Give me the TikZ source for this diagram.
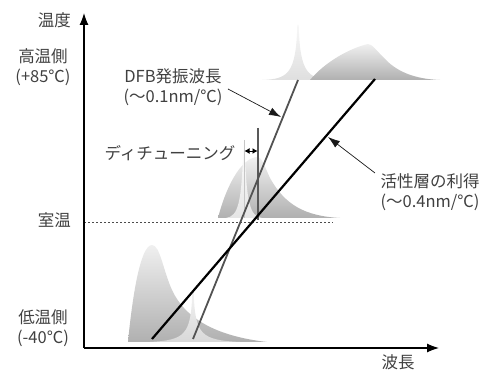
\documentclass[tikz,border=0pt]{standalone}
\usepackage{fontspec}
\setmainfont{Noto Sans CJK JP}
\usetikzlibrary{arrows.meta}
\begin{document}
\begin{tikzpicture}[x=1pt,y=-1pt,
  font=\fontsize{16.5}{20.5}\selectfont,
  lbl/.style={text=black!75, inner sep=0pt, align=center},
  axis/.style={line width=1.1pt, -{Latex[length=12pt,width=9pt]}},
  gain/.style={top color=gray!12, bottom color=gray!62, draw=none},
  dfbspec/.style={top color=gray!6, bottom color=gray!25, draw=none},
  note/.style={line width=0.7pt, black!90, -{Latex[length=12pt,width=8pt]}},
  gainline/.style={line width=2.2pt, black},
  dfbline/.style={line width=1.8pt, black!68}]
\useasboundingbox (0,0) rectangle (483,371);

% spectra: top
\shade[dfbspec] (262,80) .. controls (288,79) and (296,74) .. (297.3,25) -- (298.7,25) .. controls (300,74) and (308,79) .. (334,80) -- cycle;
\shade[gain] (310,80) .. controls (325,62) and (350,48) .. (368,44) .. controls (372,44) and (376,50) .. (386,60) .. controls (398,72) and (415,79) .. (440,80) -- cycle;
% middle
\shade[gain] (218,218) .. controls (225,190) and (240,158) .. (257,157) .. controls (262,157) and (264,165) .. (270,178) .. controls (285,205) and (305,216) .. (340,218) -- cycle;
\shade[top color=white, bottom color=gray!20, draw=none] (226,218) .. controls (238,216) and (242,205) .. (243.4,140) -- (244.6,140) .. controls (246,205) and (250,216) .. (262,218) -- cycle;
% bottom
\shade[gain] (128,342) .. controls (132,300) and (140,245) .. (152,245) .. controls (160,245) and (163,270) .. (172,290) .. controls (185,318) and (215,336) .. (267,342) -- cycle;
\shade[top color=gray!10, bottom color=gray!30, draw=none] (150,342) .. controls (185,340) and (191,335) .. (192.3,292) -- (193.7,292) .. controls (195,335) and (201,340) .. (240,342) -- cycle;

% room temperature dotted line
\coordinate (rt0) at (84,222);
\coordinate (rt1) at (333,222);
\draw[black!70, line width=0.8pt, dash pattern=on 2pt off 2pt] (rt0) -- (rt1);

% detuning markers
\coordinate (d0) at (244,140);
\coordinate (d0b) at (244,218);
\coordinate (d1) at (258,128);
\coordinate (d1b) at (258,220);
\draw[gray!45, line width=0.7pt] (d0) -- (d0b);
\draw[black!65, line width=1.1pt] (d1) -- (d1b);
\coordinate (da) at (244.5,151);
\coordinate (db) at (257.5,151);
\draw[line width=0.9pt, {Latex[length=5pt,width=6pt]}-{Latex[length=5pt,width=6pt]}] (da) -- (db);

% trend lines
\coordinate (f0) at (193,339);
\coordinate (f1) at (298,80);
\coordinate (g0) at (152,339);
\coordinate (g1) at (375,79);
\draw[dfbline] (f0) -- (f1);
\draw[gainline] (g0) -- (g1);

% axes
\coordinate (o) at (84,348);
\coordinate (ytop) at (84,13);
\coordinate (xend) at (439,348);
\draw[axis] (o) -- (ytop);
\draw[axis] (o) -- (xend);

% labels
\node[lbl, anchor=east] (temp) at (71,20) {温度};
\node[lbl] (hi) at (43,67) {高温側\\(+85℃)};
\node[lbl, anchor=east] (room) at (71,220) {室温};
\node[lbl] (lo) at (43,328) {低温側\\(-40℃)};
\node[lbl] (wl) at (398,362) {波長};
\node[lbl] (dfb) at (173,87) {DFB発振波長\\(〜0.1nm/℃)};
\node[lbl] (det) at (170,153) {ディチューニング};
\node[lbl] (act) at (430,192) {活性層の利得\\(〜0.4nm/℃)};

% annotation arrows
\coordinate (dfbs) at (228,89);
\coordinate (dfbt) at (281,117);
\draw[note] (dfbs) -- (dfbt);
\coordinate (acts) at (375,173);
\coordinate (actt) at (328,137);
\draw[note] (acts) -- (actt);
\end{tikzpicture}
\end{document}
